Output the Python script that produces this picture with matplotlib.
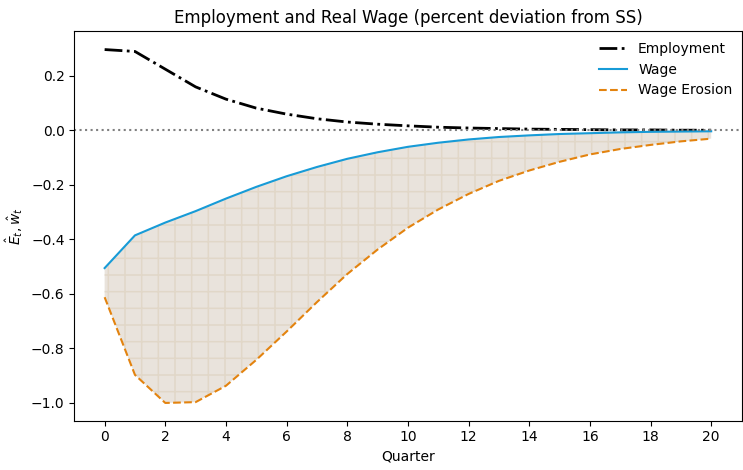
import numpy as np
import matplotlib
matplotlib.use("Agg")
import matplotlib.pyplot as plt

# impulse responses (percent deviation from SS)
quarters = list(range(21))
employment = [0.297, 0.290, 0.225, 0.160, 0.115, 0.082, 0.060, 0.043, 0.031,
              0.023, 0.017, 0.012, 0.009, 0.007, 0.005, 0.004, 0.003, 0.002,
              0.002, 0.001, 0.001]
wage = [-0.505, -0.385, -0.338, -0.296, -0.250, -0.207, -0.168, -0.134, -0.104,
        -0.080, -0.060, -0.045, -0.033, -0.024, -0.018, -0.013, -0.010, -0.007,
        -0.005, -0.004, -0.003]
wage_erosion = [-0.612, -0.897, -1.000, -0.997, -0.937, -0.842, -0.738, -0.630,
                -0.527, -0.437, -0.357, -0.290, -0.233, -0.185, -0.147, -0.115,
                -0.088, -0.068, -0.053, -0.040, -0.030]

plt.rcParams["hatch.linewidth"] = 1.1

fig, ax = plt.subplots(figsize=(7.43, 4.70), dpi=100)
fig.subplots_adjust(left=0.1, right=0.998, top=0.934, bottom=0.105)

ax.fill_between(quarters, wage, wage_erosion, facecolor="#e9e3dc",
                edgecolor="#e1d7c8", hatch="+", linewidth=0)

ax.plot(quarters, employment, color="black", linestyle="-.", linewidth=2,
        label="Employment")
ax.plot(quarters, wage, color="#179bd7", linewidth=1.5, label="Wage")
ax.plot(quarters, wage_erosion, color="#e3830f", linestyle="--", linewidth=1.5,
        label="Wage Erosion")
ax.axhline(0, color="gray", linestyle=":", linewidth=1.5)

ax.set_xticks(range(0, 21, 2))
ax.set_xlim(-1, 21)
ax.set_ylim(-1.065, 0.365)
ax.set_xlabel("Quarter")
ax.set_ylabel(r"$\hat{E}_t, \hat{w}_t$")
ax.set_title("Employment and Real Wage (percent deviation from SS)")
ax.legend(frameon=False, loc="upper right", bbox_to_anchor=(1.005, 1.005))

fig.savefig("out.png")
